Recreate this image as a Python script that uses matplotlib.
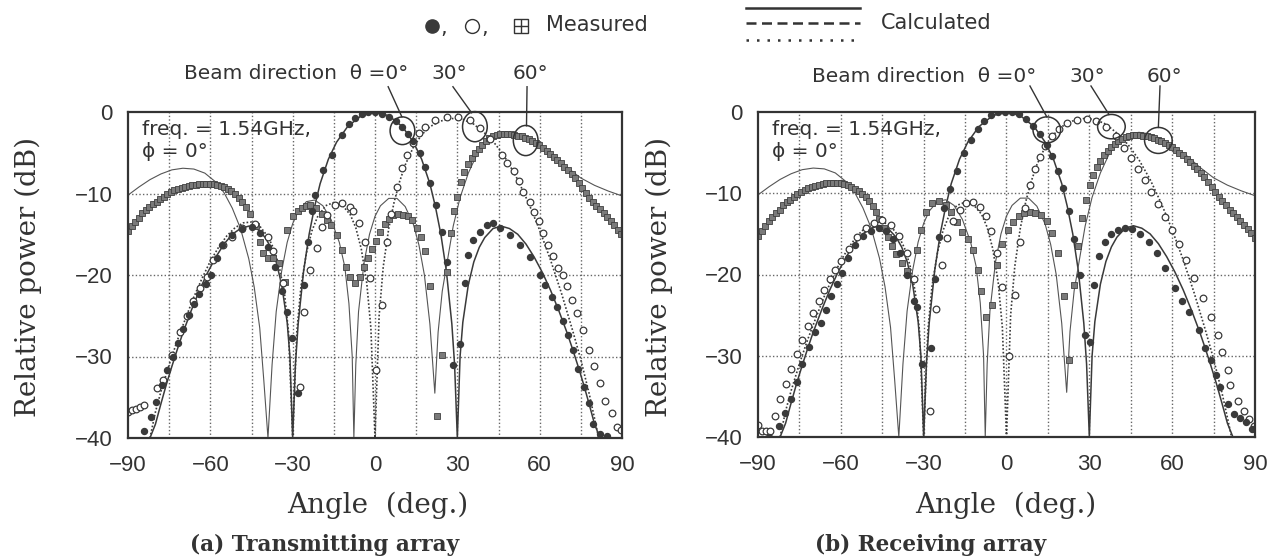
import matplotlib
matplotlib.use("Agg")
import matplotlib.pyplot as plt
from matplotlib.patches import Ellipse
from matplotlib.lines import Line2D

# * Data
# calculated patterns, same in both panels
calc0_ang = [-82, -80, -78, -76, -74, -72, -70, -67, -64, -61, -58, -55, -52, -49, -46, -43, -40, -38, -36, -34,
             -32, -31, -30, -29, -28, -26, -24, -22, -20, -17, -14, -10, -5, 0, 5, 10, 14, 17, 20, 22, 24, 26,
             28, 29, 30, 31, 32, 34, 36, 38, 40, 43, 46, 49, 52, 55, 58, 61, 64, 67, 70, 72, 74, 76, 78, 80, 82]
calc0_db = [-40, -38.3, -35.8, -33.4, -31.2, -29.1, -27.1, -24.4, -21.9, -19.7, -17.8, -16.2, -15.0, -14.3, -14.0,
            -14.3, -15.4, -16.6, -18.4, -21.2, -25.8, -30, -40, -31, -26, -19.5, -15, -11.6, -8.8, -5.8, -3.7,
            -1.8, -0.45, 0, -0.45, -1.8, -3.7, -5.8, -8.8, -11.6, -15, -19.5, -26, -31, -40, -30, -25.8, -21.2,
            -18.4, -16.6, -15.4, -14.3, -14.0, -14.3, -15.0, -16.2, -17.8, -19.7, -21.9, -24.4, -27.1, -29.1,
            -31.2, -33.4, -35.8, -38.3, -40]

calc30_ang = [-82, -80, -78, -75, -72, -69, -66, -63, -60, -57, -54, -51, -48, -45, -42, -39, -37, -35, -33,
              -31.5, -30, -28.5, -27, -25, -23, -21, -18, -15, -12, -9, -7, -5, -3, -1.5, 0, 1.5, 3, 5, 7, 9,
              11, 14, 17, 20, 24, 28, 32, 36, 40, 44, 48, 52, 56, 60, 64, 68, 72, 75, 78, 80, 81.5]
calc30_db = [-40, -36.8, -34.3, -31, -28, -25.3, -22.7, -20.4, -18.3, -16.6, -15.2, -14.2, -13.6, -13.5, -14.0,
             -15.3, -16.7, -18.8, -22.2, -27, -40, -27, -21.5, -17.3, -14.6, -12.9, -11.5, -11.1, -11.4, -12.6,
             -14.2, -16.8, -21, -26.5, -40, -25, -19, -14.3, -11, -8.5, -6.5, -4.3, -2.8, -1.8, -1.1, -0.8,
             -0.9, -1.5, -2.6, -4.0, -5.9, -8.3, -11.2, -14.5, -18.2, -22.3, -26.8, -30.4, -34.5, -37.6, -40]

calc60_ang = [-90, -86, -82, -78, -74, -70, -66, -62, -58, -55, -52, -49, -46, -44, -42, -40.5, -39, -37.5,
              -36, -34, -32, -30, -28, -25, -22, -19, -16, -13, -11, -9.5, -8.3, -7.7, -7, -6, -4, -2, 0, 2,
              5, 8, 11, 14, 16, 18, 20, 21.8, 23, 24.5, 26.5, 28.5, 31, 34, 37, 40, 44, 48, 52, 56, 60, 65,
              70, 75, 80, 85, 90]
calc60_db = [-10.2, -9.2, -8.3, -7.6, -7.1, -6.9, -7.0, -7.5, -8.6, -9.9, -11.8, -14.3, -18, -21.5, -26.5, -33,
             -40, -31, -24.5, -19.5, -16, -13.7, -12.2, -11, -10.8, -11.5, -13.2, -16, -19, -23.5, -30, -40,
             -31, -24.5, -18.5, -15, -12.8, -11.5, -10.6, -10.6, -11.6, -13.8, -16.3, -20, -26, -34.5, -27,
             -22, -18, -14, -10.5, -7.5, -5.3, -3.8, -2.7, -2.5, -2.7, -3.3, -4.1, -5.3, -6.8, -8.1, -9.0,
             -9.7, -10.3]

# (a) transmitting array, measured
tx0_ang = [-84, -81.6, -79.8, -77.7, -75.7, -73.5, -71.7, -69.8, -67.8, -65.9, -64.1, -61.7, -59.9, -57.5,
           -55.9, -52.2, -48.6, -44.9, -42, -39, -36.5, -34, -32, -30.3, -28, -25.9, -24.5, -23, -21.9, -18.9,
           -15.8, -12.2, -9.5, -7.3, -4.8, -2.5, 0, 2.5, 5, 7.5, 9.7, 12, 14, 16.4, 18.3, 20.1, 22.3, 24.3,
           26.4, 28.5, 30.8, 32.8, 34, 35.8, 38.3, 40.7, 43, 45.6, 49.2, 52.9, 56.5, 60.1, 61.9, 64.4, 66.2,
           68.4, 70.5, 72.1, 73.8, 76, 77.8, 79.6, 82.1, 84.5]
tx0_db = [-39.1, -37.4, -35.6, -33.5, -31.7, -30, -28.3, -26.6, -24.9, -23.6, -22.3, -21.1, -20, -17.9, -16.3,
          -15.1, -14.4, -14.1, -14.8, -16.6, -19, -22, -24.5, -27.7, -34.5, -21.2, -16, -12.2, -10.2, -7.1,
          -5.3, -2.8, -1.5, -0.7, -0.2, 0, 0, -0.2, -0.6, -1.1, -1.8, -2.7, -3.6, -5.0, -6.7, -8.7, -11.4,
          -14.7, -18.4, -31, -28.5, -21, -17.5, -15.7, -14.7, -13.9, -13.6, -14.2, -15.1, -16.3, -17.8, -20,
          -21.2, -22.7, -23.9, -25.7, -27.4, -29.2, -31.5, -33.7, -35.7, -38.3, -39.5, -39.8]

tx30_ang = [-90, -88.5, -87, -85.5, -84, -79.5, -77.2, -74.1, -71, -68.6, -66.3, -63.8, -61.3, -59, -55.3,
            -52.2, -48.6, -43.7, -39, -37, -33.5, -27.3, -25.9, -23.7, -21.2, -19.4, -17.6, -14.6, -12.2, -9.1,
            -7.9, -6, -3.6, -1.8, 0.5, 2.5, 4.3, 6, 7.9, 9.7, 11.5, 14, 16, 18.3, 21.9, 26.1, 30.4, 34.6, 38.3,
            42, 46.2, 48, 50.5, 52.3, 54.1, 56.3, 58, 59.6, 61.2, 63.2, 65, 66.8, 68.5, 70, 71.7, 73.5, 75.9,
            77.8, 79.8, 82, 83.8, 86.3, 88.1, 89.5]
tx30_db = [-36.8, -36.6, -36.4, -36.2, -36, -33.9, -32.9, -29.8, -27, -25, -23.2, -21.6, -20.2, -18.2, -16.3,
           -15.3, -14.2, -13.8, -15.3, -17, -21, -33.7, -24.5, -19.4, -16.7, -14.1, -12.6, -11.4, -11.2, -11.6,
           -12.2, -13.6, -15.9, -20.4, -31.7, -23.7, -15.9, -12.5, -9.2, -6.9, -5.3, -3.8, -2.6, -1.8, -1.0,
           -0.6, -0.6, -1.0, -2.0, -3.3, -5.3, -6.3, -7.3, -8.5, -9.8, -11.1, -12.3, -13.4, -14.9, -16.3, -17.7,
           -19.2, -20, -21.3, -23.1, -24.7, -26.8, -29.2, -31.2, -33.3, -35.5, -36.9, -38.6, -39]

tx60_ang = [-90, -88.7, -87.4, -86.1, -84.8, -83.5, -82.2, -80.9, -79.6, -78.3, -77, -75.7, -74.4, -73.1, -71.8,
            -70.5, -69.2, -67.9, -66.6, -65.3, -64, -62.7, -61.4, -60.1, -58.8, -57.5, -56.2, -54.9, -53.6,
            -52.3, -51, -49.7, -48.4, -47.1, -45.5, -43.5, -42, -40.7, -39, -37.2, -35, -32.8, -32, -29.8,
            -28.2, -26.7, -25.2, -23.7, -21.5, -19.4, -17.5, -16, -14, -12.2, -10.5, -9, -7.3, -5.5, -4, -2.4,
            -1, 0.5, 2, 3.5, 5, 6.7, 8.5, 10.3, 12, 13.6, 15.2, 16.8, 18.3, 20.1, 22.5, 24.3, 26.2, 27.6, 28.8,
            30, 31.3, 32.6, 33.9, 35.2, 36.5, 37.8, 39.1, 40.4, 41.7, 43, 44.3, 45.6, 46.9, 48.2, 49.5, 50.8,
            52.1, 53.4, 54.7, 56, 57.3, 58.6, 59.9, 61.2, 62.5, 63.8, 65.1, 66.4, 67.7, 69, 70.3, 71.6, 72.9,
            74.2, 75.5, 76.8, 78.1, 79.4, 80.7, 82, 83.3, 84.6, 85.9, 87.2, 88.5, 89.8]
tx60_db = [-14.6, -14.0, -13.5, -13.0, -12.4, -12.0, -11.6, -11.3, -11.0, -10.7, -10.4, -10.1, -9.8, -9.6, -9.4,
           -9.3, -9.2, -9.05, -8.95, -8.9, -8.85, -8.8, -8.8, -8.8, -8.85, -8.9, -9.05, -9.2, -9.4, -9.7, -10.0,
           -10.5, -11.1, -11.6, -12.5, -14.0, -15.9, -17.3, -17.9, -17.9, -18.5, -20.8, -14.5, -12.8, -12.1,
           -11.8, -11.5, -11.4, -11.8, -12.5, -13.3, -13.9, -15.1, -16.9, -19.0, -20.3, -21.0, -20.2, -19.0,
           -17.9, -16.8, -15.8, -14.7, -13.8, -13.1, -12.6, -12.5, -12.6, -12.8, -13.3, -14.2, -15.3, -17.1,
           -21.4, -37.3, -29.8, -19.6, -14.8, -12.2, -10.4, -8.6, -7.4, -6.4, -5.6, -5.0, -4.5, -4.0, -3.6,
           -3.25, -3.0, -2.85, -2.75, -2.7, -2.7, -2.75, -2.8, -2.9, -3.0, -3.15, -3.35, -3.55, -3.8, -4.1,
           -4.4, -4.75, -5.1, -5.5, -5.9, -6.3, -6.75, -7.15, -7.6, -8.1, -8.7, -9.3, -9.9, -10.6, -11.1,
           -11.5, -11.9, -12.4, -12.9, -13.4, -13.9, -14.5, -15.0]

# (b) receiving array, measured
rx0_ang = [-86, -82.5, -80.2, -78, -76, -74, -71.6, -69.2, -67.3, -65.4, -63.5, -61.5, -59.5, -57.5, -55, -52,
           -49, -46, -43.5, -41, -38.5, -36, -33.5, -32.3, -30.7, -27.5, -26, -24.3, -22.5, -20.5, -18, -15.5,
           -13, -10.5, -8, -5.5, -3, -0.5, 2, 4.5, 7, 9.5, 12, 14.5, 16.5, 18.5, 20.5, 22.5, 24.5, 26.5, 28.4,
           30.3, 31.7, 33.5, 35.5, 38, 40.5, 43, 45.5, 48.5, 51.5, 54.5, 57.5, 60.9, 63.5, 66.1, 69.7, 71.9,
           73.9, 75.7, 77.2, 80.2, 82.4, 84.6, 86.8, 89]
rx0_db = [-40, -38.6, -37, -35.3, -33.2, -31, -28.9, -27.1, -26, -24.4, -22.6, -21.2, -19.8, -18, -16.4, -15.3,
          -14.7, -14.3, -14.6, -15.6, -17.4, -20, -23.2, -24, -31, -29, -20.5, -15.4, -11.8, -9.5, -7.2, -5.0,
          -3.4, -2.1, -1.1, -0.4, 0, 0, 0, -0.3, -0.9, -1.7, -2.7, -4.1, -5.4, -7.2, -9.3, -12.2, -15.6, -20,
          -27.5, -28.3, -21.3, -17.7, -16, -15, -14.5, -14.3, -14.4, -15, -16, -17.4, -19.2, -21.7, -23.2,
          -24.6, -26.8, -29, -30.5, -32.4, -33.8, -35.9, -37.2, -37.6, -38.2, -39]

rx30_ang = [-90, -88.5, -87, -85.5, -84, -82, -80, -78, -76, -74, -72, -70, -68, -66, -64, -62, -60, -57, -54,
            -51, -48, -45, -42, -39, -36, -33.5, -27.8, -25.5, -23.5, -21.5, -19.5, -17, -14.5, -12, -9.5, -7.5,
            -5.5, -3.5, -1.5, 1, 3, 5, 6.8, 8.5, 10.3, 12, 14, 16.5, 19, 22, 25.5, 29, 32.5, 36, 39.5, 42.5, 45,
            47.5, 50, 52.5, 55, 57.5, 60, 62.5, 65, 68, 71.1, 74, 76.5, 77.9, 80.2, 80.9, 83.9, 86, 88, 89.5]
rx30_db = [-38.5, -39.2, -39.3, -39.3, -37.4, -35.3, -33.5, -31.6, -29.8, -28, -26.3, -24.7, -23.3, -21.9,
           -20.6, -19.4, -18.3, -16.8, -15.4, -14.3, -13.6, -13.3, -13.9, -15.3, -17.3, -20.5, -36.8, -24.3,
           -18.8, -15.5, -13.4, -12, -11.2, -11.1, -11.7, -12.8, -14.6, -17.3, -21.5, -30, -22.5, -16, -11.8,
           -9, -7, -5.5, -4.2, -3, -2.1, -1.4, -1.0, -0.9, -1.1, -1.8, -3.0, -4.4, -5.7, -7, -8.4, -9.8, -11.3,
           -12.9, -14.5, -16.3, -18.2, -20.4, -22.9, -25.2, -27.4, -29.5, -31.7, -33.6, -35.6, -36.8, -37.8,
           -38.6]

rx60_ang = [-90, -88.7, -87.4, -86.1, -84.8, -83.5, -82.2, -80.9, -79.6, -78.3, -77, -75.7, -74.4, -73.1, -71.8,
            -70.5, -69.2, -67.9, -66.6, -65.3, -64, -62.7, -61.4, -60.1, -58.8, -57.5, -56.2, -54.9, -53.6,
            -52.3, -51, -49.7, -48.4, -47.1, -46, -44.5, -43, -41.5, -40, -38, -36, -34, -32.5, -31, -29, -27,
            -24.5, -22, -20, -18, -16, -14, -12, -10.5, -9.3, -7.4, -5.3, -3.5, -1.5, 0.5, 2.5, 4.5, 6.5, 8.5,
            10.5, 12.5, 14.5, 16.5, 18.5, 21, 22.5, 24.5, 26, 27.5, 28.8, 30.1, 31.4, 32.7, 34, 35.3, 36.6,
            37.9, 39.2, 40.5, 41.8, 43.1, 44.4, 45.7, 47, 48.3, 49.6, 50.9, 52.2, 53.5, 54.8, 56.1, 57.4, 58.7,
            60, 61.3, 62.6, 63.9, 65.2, 66.5, 67.8, 69.1, 70.4, 71.7, 73, 74.3, 75.6, 76.9, 78.2, 79.5, 80.8,
            82.1, 83.4, 84.7, 86, 87.3, 88.6, 89.9]
rx60_db = [-15.3, -14.6, -14.0, -13.4, -12.9, -12.4, -12.0, -11.5, -11.1, -10.8, -10.4, -10.1, -9.85, -9.6, -9.4,
           -9.25, -9.1, -9.0, -8.85, -8.75, -8.7, -8.7, -8.7, -8.75, -8.85, -9.0, -9.2, -9.45, -9.75, -10.1,
           -10.5, -11.0, -11.6, -12.3, -13.2, -14.3, -15.4, -16.5, -17.5, -18.6, -19.6, -20.5, -17.0, -14.5,
           -12.3, -11.2, -11.0, -11.5, -12.3, -13.5, -14.8, -15.6, -17.0, -19.4, -22.0, -25.2, -23.7, -18.8,
           -16.2, -14.5, -13.5, -12.8, -12.4, -12.3, -12.4, -12.7, -13.4, -14.9, -17.3, -22.7, -30.5, -21.3,
           -16.5, -13.0, -10.8, -9.0, -7.8, -6.8, -6.0, -5.3, -4.8, -4.3, -3.9, -3.55, -3.3, -3.1, -2.95,
           -2.85, -2.8, -2.85, -2.9, -3.0, -3.1, -3.25, -3.4, -3.6, -3.8, -4.05, -4.35, -4.65, -5.0, -5.35,
           -5.75, -6.15, -6.6, -7.05, -7.5, -8.0, -8.6, -9.2, -9.8, -10.4, -11.0, -11.5, -12.0, -12.4, -12.9,
           -13.4, -13.9, -14.4, -14.9, -15.5]

# GLOBALS
W, H = 1277, 560
INK = "#333333"
SANS = ["DejaVu Sans"]
SERIF = "DejaVu Serif"


def px(x, y):
    """ pixel position -> figure fraction """
    return x / W, 1 - y / H


def draw_panel(ax, m0, m30, m60, labels, loops, leaders):
    ax.set_xlim(-90, 90)
    ax.set_ylim(-40, 0)

    # dotted grid
    for g in range(-75, 90, 15):
        ax.axvline(g, color="#666666", lw=1.0, ls=(0, (1, 1.6)), zorder=1)
    for g in (-10, -20, -30):
        ax.axhline(g, color="#666666", lw=1.0, ls=(0, (1, 1.6)), zorder=1)

    # calculated
    ax.plot(calc0_ang, calc0_db, color="#3a3a3a", lw=1.1, zorder=3)
    ax.plot(calc30_ang, calc30_db, color="#3a3a3a", lw=1.2, ls=(0, (1, 1.2)), zorder=3)
    ax.plot(calc60_ang, calc60_db, color="#555555", lw=0.8, zorder=3)

    # measured
    ax.plot(m60[0], m60[1], ls="none", marker="s", ms=4.0, mfc="#7a7a7a", mec="#404040", mew=0.6, zorder=4)
    ax.plot(m30[0], m30[1], ls="none", marker="o", ms=4.8, mfc="white", mec="#3a3a3a", mew=0.9, zorder=5)
    ax.plot(m0[0], m0[1], ls="none", marker="o", ms=4.3, mfc="#3a3a3a", mec="#3a3a3a", zorder=6)

    for s in ax.spines.values():
        s.set_linewidth(1.6)
        s.set_color(INK)
        s.set_zorder(7)

    ax.set_xticks([-90, -60, -30, 0, 30, 60, 90])
    ax.set_yticks([0, -10, -20, -30, -40])
    ax.tick_params(axis="x", length=0, pad=12, labelsize=16, labelcolor=INK)
    ax.tick_params(axis="y", length=0, pad=11, labelsize=16, labelcolor=INK)
    for t in ax.get_xticklabels() + ax.get_yticklabels():
        t.set_family(["Liberation Sans", "DejaVu Sans"])

    # text inside / above
    ax.text(-84.9, -2.2, "freq. = 1.54GHz,", fontsize=14.5, family=SANS, color=INK, va="center")
    ax.text(-84.9, -4.9, "\u03d5 = 0\u00b0", fontsize=14.5, family=SANS, color=INK, va="center")

    (bx, by), (x30, y30), (x60, y60) = labels
    ax.text(bx, by, "Beam direction  \u03b8 =0\u00b0", fontsize=14.5, family=SANS, color=INK,
            ha="right", va="center", clip_on=False)
    ax.text(x30, y30, "30\u00b0", fontsize=14.5, family=SANS, color=INK, ha="center", va="center", clip_on=False)
    ax.text(x60, y60, "60\u00b0", fontsize=14.5, family=SANS, color=INK, ha="center", va="center", clip_on=False)

    for (cx, cy, w, h) in loops:
        ax.add_patch(Ellipse((cx, cy), w, h, fill=False, ec=INK, lw=1.1, zorder=8, clip_on=False))
    for (x1, y1, x2, y2) in leaders:
        ax.plot([x1, x2], [y1, y2], color=INK, lw=1.0, zorder=8, clip_on=False)


fig = plt.figure(figsize=(W / 100, H / 100), dpi=100)

ax1 = fig.add_axes([128 / W, 1 - 438 / H, 494 / W, 326 / H])
ax2 = fig.add_axes([758 / W, 1 - 437 / H, 497 / W, 325 / H])

draw_panel(ax1, (tx0_ang, tx0_db), (tx30_ang, tx30_db), (tx60_ang, tx60_db),
           labels=[(12, 4.7), (27, 4.7), (56.5, 4.7)],
           loops=[(10, -2.3, 9, 3.4), (36.4, -1.8, 9, 3.7), (54.9, -3.5, 9, 3.7)],
           leaders=[(4.8, 3.1, 9.8, -0.6), (28.4, 3.1, 35.2, -0.1), (55.4, 3.1, 55.2, -1.7)])
draw_panel(ax2, (rx0_ang, rx0_db), (rx30_ang, rx30_db), (rx60_ang, rx60_db),
           labels=[(10.8, 4.4), (29.2, 4.4), (57.2, 4.4)],
           loops=[(14.6, -2.2, 10, 3.2), (38, -1.8, 10, 3.0), (55, -3.5, 10, 3.2)],
           leaders=[(8.5, 3.2, 14.6, -0.6), (30.6, 3.2, 37.1, -0.3), (55.6, 3.2, 55.0, -1.9)])

# axis labels and captions
for cx in (28, 659):
    fig.text(*px(cx, 277), "Relative power (dB)", fontsize=20, family=SERIF, color=INK,
             rotation=90, ha="center", va="center")
fig.text(*px(378, 505), "Angle  (deg.)", fontsize=20, family=SERIF, color=INK, ha="center", va="center")
fig.text(*px(1006, 505), "Angle  (deg.)", fontsize=20, family=SERIF, color=INK, ha="center", va="center")
fig.text(*px(325, 545), "(a) Transmitting array", fontsize=15.5, family=SERIF, weight="bold",
         color=INK, ha="center", va="center")
fig.text(*px(931, 545), "(b) Receiving array", fontsize=15.5, family=SERIF, weight="bold",
         color=INK, ha="center", va="center")

# legend at the top: measured symbols
def fig_mark(x, y, **kw):
    fx, fy = px(x, y)
    fig.add_artist(Line2D([fx], [fy], ls="none", transform=fig.transFigure, **kw))


fig_mark(432, 26, marker="o", ms=9.5, mfc="#3a3a3a", mec="#3a3a3a")
fig_mark(472, 26, marker="o", ms=10, mfc="white", mec=INK, mew=1.0)
fig_mark(521, 26, marker="s", ms=10, mfc="white", mec=INK, mew=1.0)
fig_mark(521, 26, marker="+", ms=10, mec=INK, mew=1.0)
for cx in (444, 485):
    fig.text(*px(cx, 28), ",", fontsize=15, family=SANS, color=INK, ha="center", va="center")
fig.text(*px(546, 25), "Measured", fontsize=15, family=SANS, color=INK, ha="left", va="center")

# legend at the top: calculated line styles
for yy, st in ((8, "-"), (23, (0, (4, 2.2))), (40, (0, (1, 3.2)))):
    x0, y0 = px(746, yy)
    x1, _ = px(860, yy)
    fig.add_artist(Line2D([x0, x1], [y0, y0], color=INK, lw=1.8, ls=st, transform=fig.transFigure))
fig.text(*px(881, 23), "Calculated", fontsize=15, family=SANS, color=INK, ha="left", va="center")

fig.savefig("out.png", dpi=100)
